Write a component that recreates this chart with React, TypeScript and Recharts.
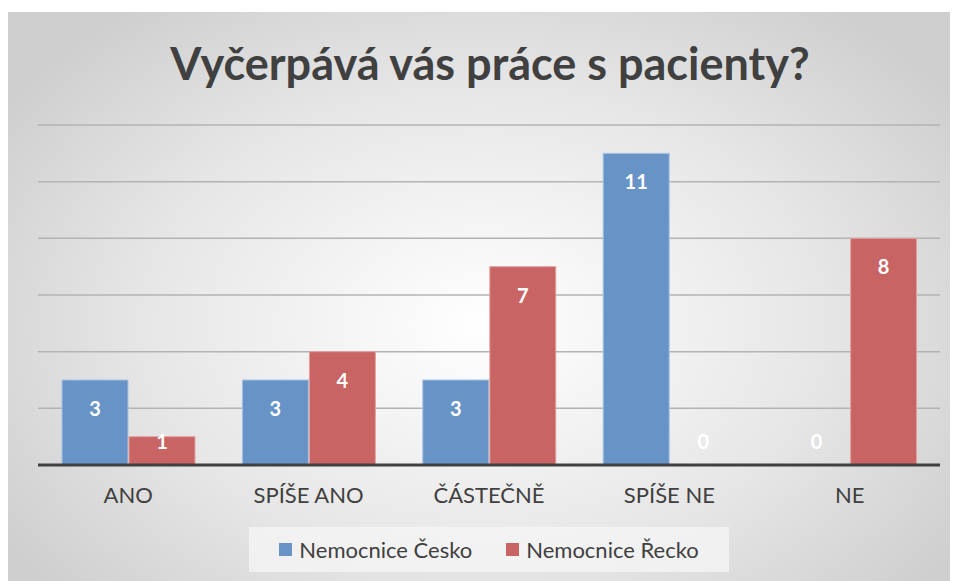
import { BarChart, Bar, XAxis, YAxis, CartesianGrid } from "recharts";

const categories = ["ANO", "SPÍŠE ANO", "ČÁSTEČNĚ", "SPÍŠE NE", "NE"];
const czechValues = [3, 3, 3, 11, 0];
const greekValues = [1, 4, 7, 0, 8];
const yTicks = [0, 2, 4, 6, 8, 10, 12];

const seriesNames = ["Nemocnice Česko", "Nemocnice Řecko"];
const seriesColors = ["#6793c7", "#c86463"];
const seriesBorders = ["#a9c2e4", "#e2a4a3"];

const data = categories.map((name, i) => ({
  name,
  cz: czechValues[i],
  gr: greekValues[i],
}));

const FONT = "Lato, 'Open Sans', sans-serif";

// bar + value label drawn together so zero bars still get their "0"
function makeShape(fill: string, border: string) {
  return (props: any) => {
    const { x, y, width, height, value } = props;
    const v = Array.isArray(value) ? value[1] - value[0] : value;
    const cy = Math.min(y + 28, y + height - 24);
    return (
      <g>
        {height > 0 && (
          <rect x={x} y={y} width={width} height={height} fill={fill} stroke={border} strokeWidth={1} />
        )}
        <text
          x={x + width / 2}
          y={cy}
          textAnchor="middle"
          dominantBaseline="central"
          fill="#ffffff"
          fontFamily={FONT}
          fontWeight={700}
          fontSize={20}
        >
          {v}
        </text>
      </g>
    );
  };
}

export default function App() {
  return (
    <div
      style={{
        position: "relative",
        width: 950,
        height: 569,
        marginTop: 4,
        background: "radial-gradient(ellipse 60% 70% at 50% 55%, #ffffff 0%, #e6e6e6 60%, #cfcfcf 100%)",
        fontFamily: FONT,
        overflow: "hidden",
      }}
    >
      <div
        style={{
          position: "absolute",
          top: 24,
          left: 0,
          width: 964,
          textAlign: "center",
          fontSize: 45,
          fontWeight: 700,
          color: "#404040",
        }}
      >
        Vyčerpává vás práce s pacienty?
      </div>
      <BarChart
        width={950}
        height={569}
        data={data}
        margin={{ top: 113, right: 18, bottom: 76, left: 30 }}
        barCategoryGap="13.3%"
        barGap={1}
      >
        <CartesianGrid vertical={false} stroke="#b3b3b3" strokeWidth={1.5} />
        <YAxis hide domain={[0, 12]} ticks={yTicks} />
        <XAxis
          dataKey="name"
          height={40}
          axisLine={{ stroke: "#404040", strokeWidth: 3 }}
          tickLine={false}
          tick={{ fill: "#404040", fontSize: 22, fontFamily: FONT }}
          tickMargin={16}
        />
        <Bar
          dataKey="cz"
          name={seriesNames[0]}
          fill={seriesColors[0]}
          shape={makeShape(seriesColors[0], seriesBorders[0])}
          isAnimationActive={false}
        />
        <Bar
          dataKey="gr"
          name={seriesNames[1]}
          fill={seriesColors[1]}
          shape={makeShape(seriesColors[1], seriesBorders[1])}
          isAnimationActive={false}
        />
      </BarChart>
      <div
        style={{
          position: "absolute",
          left: 241,
          top: 515,
          width: 480,
          height: 45,
          background: "rgba(245,245,245,0.75)",
          display: "flex",
          alignItems: "center",
          justifyContent: "center",
          gap: 34,
          fontSize: 22,
          color: "#404040",
        }}
      >
        {seriesNames.map((n, i) => (
          <div key={n} style={{ display: "flex", alignItems: "center", gap: 7 }}>
            <span style={{ width: 13, height: 13, background: seriesColors[i], display: "inline-block" }} />
            <span>{n}</span>
          </div>
        ))}
      </div>
    </div>
  );
}
